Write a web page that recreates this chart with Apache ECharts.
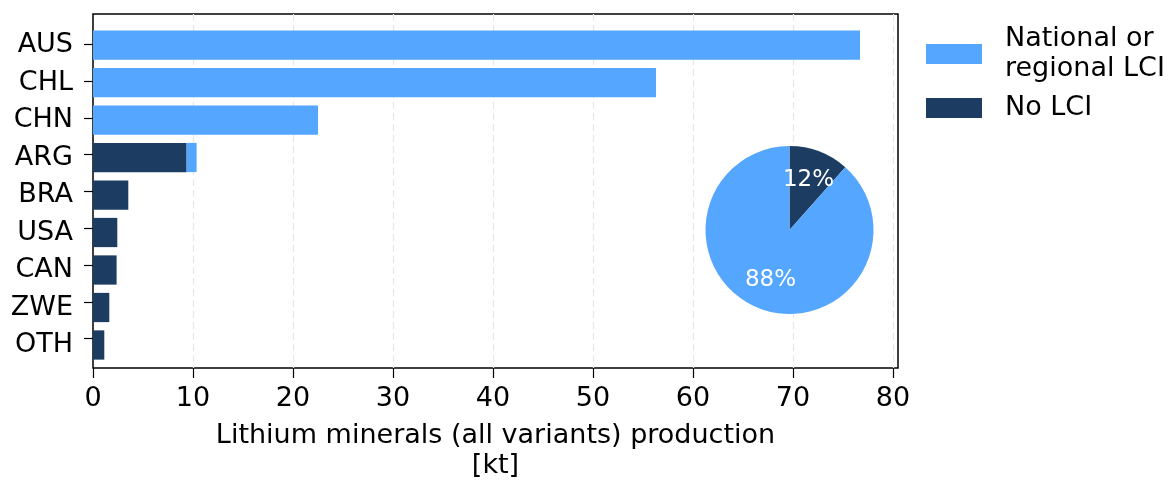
<!DOCTYPE html>
<html>
<head>
<meta charset="utf-8">
<script src="https://cdn.jsdelivr.net/npm/echarts@6/dist/echarts.min.js"></script>
<style>
html, body { margin: 0; padding: 0; background: #fff; }
#main { width: 1172px; height: 486px; }
</style>
</head>
<body>
<div id="main"></div>
<script>
// 数据
var countries = ['AUS', 'CHL', 'CHN', 'ARG', 'BRA', 'USA', 'CAN', 'ZWE', 'OTH'];
var nationalLci = [76.7, 56.3, 22.5, 1.0, 0, 0, 0, 0, 0];
var noLci = [0, 0, 0, 9.36, 3.53, 2.43, 2.36, 1.63, 1.13];
var xTicks = [0, 10, 20, 30, 40, 50, 60, 70, 80];

var nameNational = 'National or\nregional LCI';
var nameNone = 'No LCI';
var colorNational = '#54a6ff';
var colorNone = '#1c3c62';

function sum(arr) {
    return arr.reduce(function (a, b) { return a + b; }, 0);
}
function blankZero(arr) {
    return arr.map(function (v) { return v > 0 ? v : '-'; });
}
// y 轴刻度位置 (类目序号)
var yTickIdx = countries.map(function (c, i) { return i; });

var myChart = echarts.init(document.getElementById('main'));

var font = 'DejaVu Sans';
var option = {
    animation: false,
    textStyle: { fontFamily: font },
    legend: {
        left: 921,
        top: 19,
        orient: 'vertical',
        itemWidth: 56,
        itemHeight: 20,
        itemGap: 9,
        icon: 'rect',
        data: [nameNational, nameNone],
        textStyle: { fontFamily: font, fontSize: 27, lineHeight: 30, color: '#000', padding: [0, 0, 0, 18] }
    },
    grid: [
        // 外框 + x轴 + y刻度
        { left: 93, right: 274, top: 14, bottom: 111, show: true, borderColor: '#000', borderWidth: 1.5, backgroundColor: 'transparent' },
        // 条形
        { left: 93, right: 274, top: 26.25, height: 337.5 }
    ],
    xAxis: [
        {
            gridIndex: 0, type: 'value', min: 0, max: 80.5, position: 'bottom',
            axisLine: { show: false, onZero: false },
            axisTick: { show: true, length: 10, lineStyle: { color: '#000', width: 1.2 }, customValues: xTicks },
            axisLabel: { color: '#000', fontSize: 27, margin: 17, customValues: xTicks },
            splitLine: { show: true, showMinLine: false, showMaxLine: true, lineStyle: { color: '#e6e6e6', type: [7, 4], width: 1.2 } },
            name: 'Lithium minerals (all variants) production\n[kt]',
            nameLocation: 'middle',
            nameGap: 53,
            nameTextStyle: { color: '#000', fontSize: 27, lineHeight: 30, verticalAlign: 'top' }
        },
        {
            gridIndex: 1, type: 'value', min: 0, max: 80.5, show: false,
            axisLine: { onZero: false }
        }
    ],
    yAxis: [
        {
            gridIndex: 0, type: 'value', min: -31 / 37.5, max: 8.8, inverse: true, position: 'left',
            axisLine: { show: false, onZero: false },
            axisTick: { show: true, length: 9, lineStyle: { color: '#000', width: 1.2 }, customValues: yTickIdx },
            axisLabel: { show: false },
            splitLine: { show: false }
        },
        {
            gridIndex: 1, type: 'category', data: countries, inverse: true, position: 'left',
            axisLine: { show: false, onZero: false },
            axisTick: { show: false },
            axisLabel: { color: '#000', fontSize: 27, margin: 20 }
        }
    ],
    series: [
        {
            name: nameNone, type: 'bar', stack: 'total',
            xAxisIndex: 1, yAxisIndex: 1, barWidth: '78%',
            itemStyle: { color: colorNone },
            data: blankZero(noLci)
        },
        {
            name: nameNational, type: 'bar', stack: 'total',
            xAxisIndex: 1, yAxisIndex: 1, barWidth: '78%',
            itemStyle: { color: colorNational },
            data: blankZero(nationalLci)
        },
        {
            type: 'pie', center: [789.5, 230], radius: [0, 84],
            startAngle: 90, clockwise: true, silent: true,
            label: { show: false }, labelLine: { show: false },
            data: [
                { name: nameNone, value: sum(noLci), itemStyle: { color: colorNone } },
                { name: nameNational, value: sum(nationalLci), itemStyle: { color: colorNational } }
            ]
        },
        {
            // 透明饼图用于放置百分比标签 (0.6 半径处)
            type: 'pie', center: [789.5, 230], radius: [16.8, 84],
            startAngle: 90, clockwise: true, silent: true,
            itemStyle: { color: 'transparent' },
            label: {
                show: true, position: 'inside', color: '#fff', fontSize: 23, fontFamily: font,
                formatter: function (p) { return Math.round(p.percent) + '%'; }
            },
            labelLine: { show: false },
            data: [
                { name: 'a', value: sum(noLci) },
                { name: 'b', value: sum(nationalLci) }
            ]
        }
    ]
};

myChart.setOption(option);
</script>
</body>
</html>
